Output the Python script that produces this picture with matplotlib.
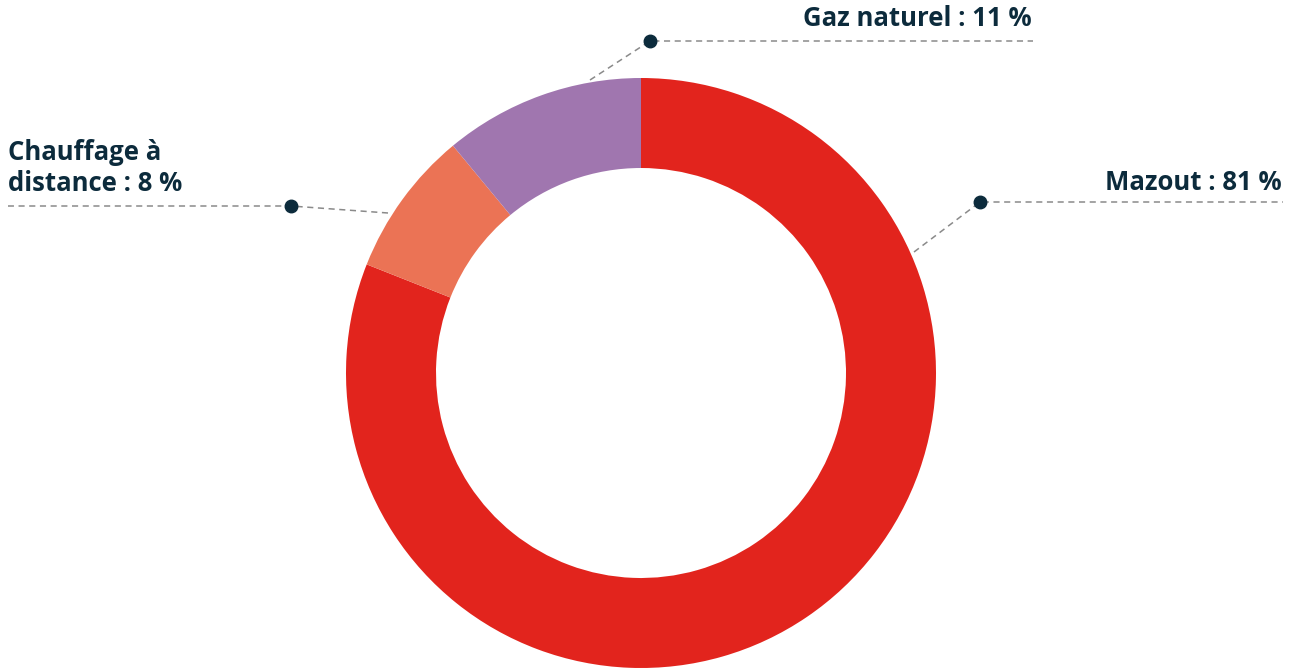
import matplotlib
matplotlib.use("Agg")
import matplotlib.pyplot as plt

# --- Data ---
LABELS = ["Mazout : 81 %", "Chauffage à\ndistance : 8 %", "Gaz naturel : 11 %"]
VALUES = [81, 8, 11]
COLORS = ["#E2241D", "#EB7355", "#A076AF"]

TEXT_COLOR = "#0C2B3C"
LINE_COLOR = "#8a8a8a"

# --- Layout (pixel coords, y from top) ---
W, H = 1298, 670
CENTER = (641, 373)
R_OUT, R_IN = 295, 205

# (start on ring, dot, end of horizontal line, text pos, text align)
CALLOUTS = [
    ((914, 252), (980, 202), 1283, (1282, 182), "right"),
    ((388, 213), (291, 206), 8, (8, 168), "left"),
    ((590, 80), (650, 41), 1033, (1032, 18), "right"),
]

def fy(y):
    return H - y

fig = plt.figure(figsize=(W / 100, H / 100), dpi=100)
ax = fig.add_axes([0, 0, 1, 1])
ax.set_xlim(0, W)
ax.set_ylim(0, H)
ax.set_aspect("equal")
ax.axis("off")

ax.pie(VALUES, colors=COLORS, startangle=90, counterclock=False,
       center=(CENTER[0], fy(CENTER[1])), radius=R_OUT,
       wedgeprops=dict(width=R_OUT - R_IN, linewidth=0))
ax.set_xlim(0, W)
ax.set_ylim(0, H)

for label, (start, dot, xend, tpos, ha) in zip(LABELS, CALLOUTS):
    ax.plot([start[0], dot[0], xend], [fy(start[1]), fy(dot[1]), fy(dot[1])],
            color=LINE_COLOR, lw=1.1, ls=(0, (4, 3)), zorder=3)
    ax.plot(dot[0], fy(dot[1]), "o", color=TEXT_COLOR, ms=9, zorder=4)
    ax.text(tpos[0], fy(tpos[1]), label, ha=ha, va="center", fontsize=18.5,
            fontweight="bold", family="Open Sans", color=TEXT_COLOR,
            linespacing=1.2)

fig.savefig("out.png", dpi=100)
